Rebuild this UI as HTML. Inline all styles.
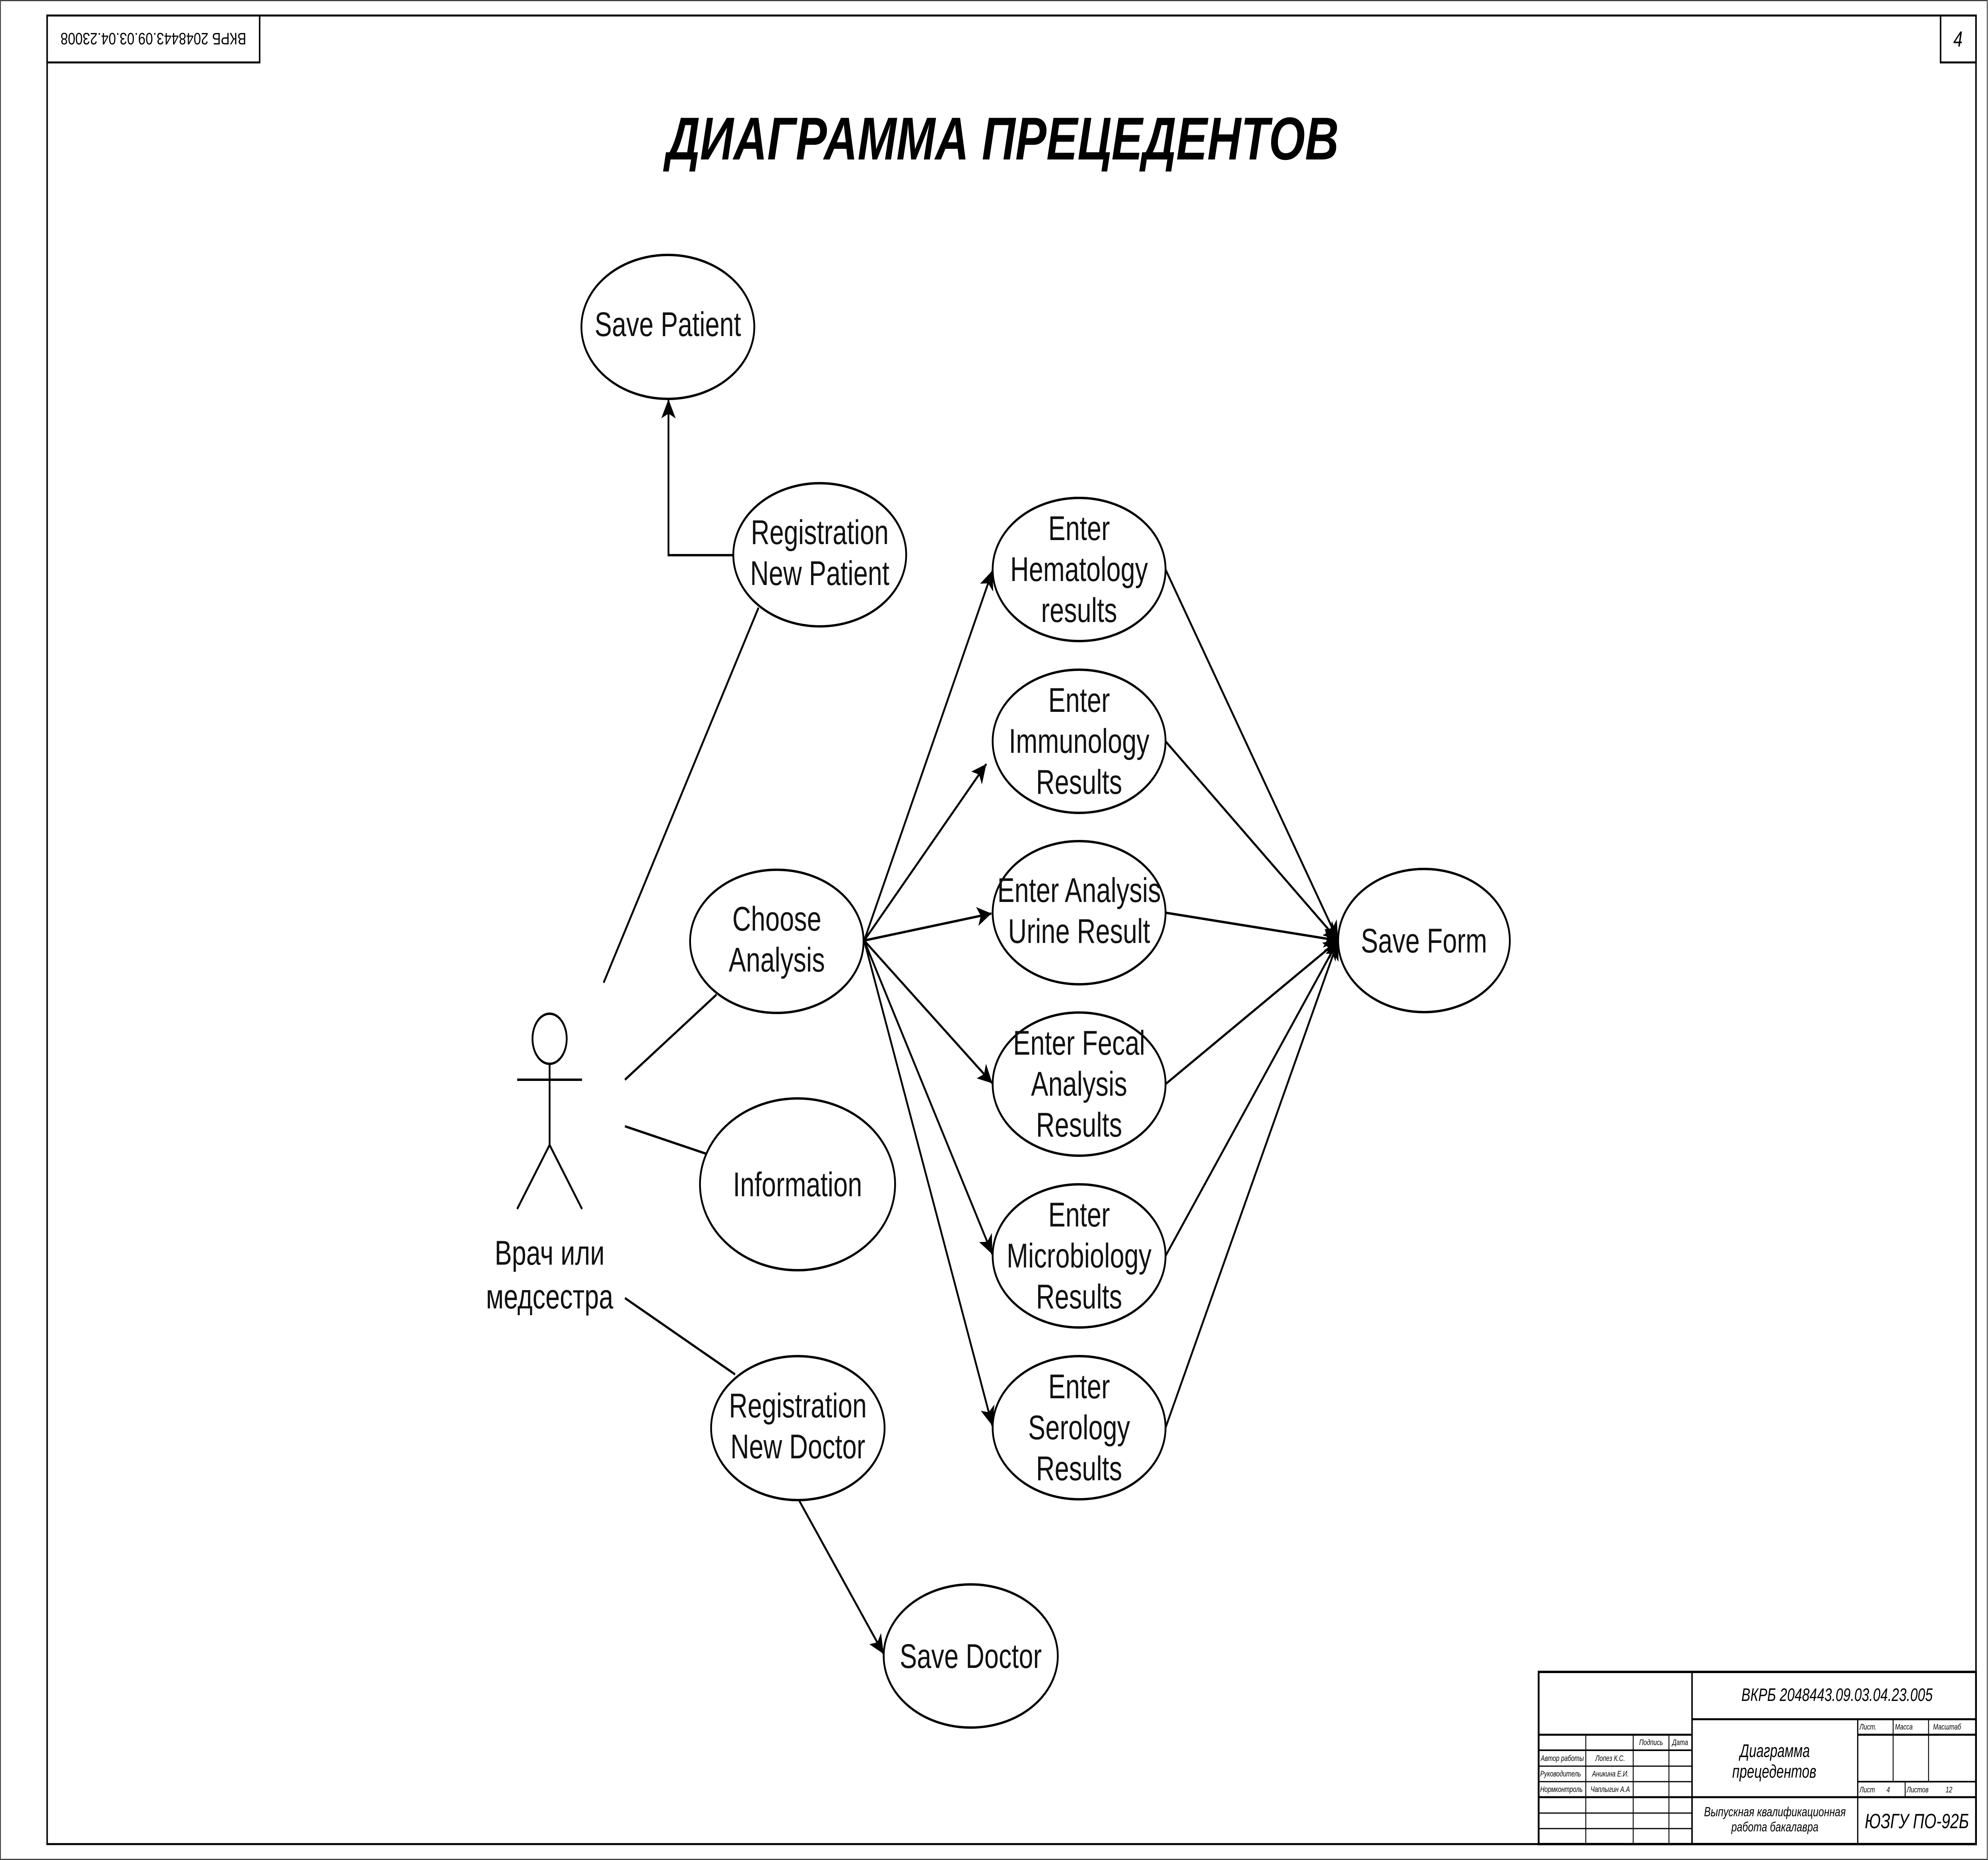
<!DOCTYPE html>
<html><head><meta charset="utf-8"><style>html,body{margin:0;padding:0;background:#fff;width:100%;height:100%;overflow:hidden}svg{display:block;width:100vw;height:100vh}</style></head>
<body>
<svg viewBox="0 0 6623 4677" preserveAspectRatio="none" xmlns="http://www.w3.org/2000/svg" font-family="'Liberation Sans', sans-serif">
<defs>
<marker id="ar" viewBox="0 0 10 10" refX="10" refY="5" markerWidth="8" markerHeight="8" markerUnits="strokeWidth" orient="auto">
<path d="M0,0 L10,5 L0,10 L2.5,5 z" fill="#000"/>
</marker>
</defs>
<rect x="1.5" y="1.5" width="6619" height="4674" fill="none" stroke="#444" stroke-width="3"/>
<rect x="157" y="39" width="6426" height="4598" fill="none" stroke="#000" stroke-width="5"/>
<rect x="157" y="39" width="708" height="118" fill="none" stroke="#000" stroke-width="5"/>
<text x="0" y="0" font-size="42" text-anchor="middle" transform="translate(511,98) rotate(180) translate(0,15)" textLength="619" lengthAdjust="spacingAndGlyphs">ВКРБ 2048443.09.03.04.23008</text>
<rect x="6465" y="39" width="118" height="118" fill="none" stroke="#000" stroke-width="5"/>
<text x="6523" y="117" font-size="55" font-style="italic" text-anchor="middle">4</text>

<text x="3340" y="401" font-size="152" font-weight="bold" font-style="italic" text-anchor="middle" textLength="2240" lengthAdjust="spacingAndGlyphs">ДИАГРАММА ПРЕЦЕДЕНТОВ</text>

<g stroke="#000" stroke-width="6" fill="none">
<ellipse cx="1831" cy="2612" rx="57" ry="63"/>
<line x1="1831" y1="2675" x2="1831" y2="2879"/>
<line x1="1723" y1="2715" x2="1939" y2="2715"/>
<line x1="1831" y1="2879" x2="1723" y2="3040"/>
<line x1="1831" y1="2879" x2="1939" y2="3040"/>
<line x1="2011" y1="2471" x2="2527" y2="1528"/>
<line x1="2082" y1="2715" x2="2387" y2="2501"/>
<line x1="2082" y1="2832" x2="2352" y2="2901"/>
<line x1="2082" y1="3264" x2="2449" y2="3456"/>
<polyline points="2443,1396 2227,1396 2227,1004" marker-end="url(#ar)"/>
<line x1="2663" y1="3774" x2="2944" y2="4159" marker-end="url(#ar)"/>
<line x1="2879" y1="2365" x2="3307" y2="1434" marker-end="url(#ar)"/>
<line x1="2879" y1="2365" x2="3286" y2="1921" marker-end="url(#ar)"/>
<line x1="2879" y1="2365" x2="3303" y2="2297" marker-end="url(#ar)"/>
<line x1="2879" y1="2365" x2="3306" y2="2724" marker-end="url(#ar)"/>
<line x1="2879" y1="2365" x2="3306" y2="3154" marker-end="url(#ar)"/>
<line x1="2879" y1="2365" x2="3306" y2="3585" marker-end="url(#ar)"/>
<line x1="3883" y1="1432" x2="4458" y2="2365" marker-end="url(#ar)"/>
<line x1="3883" y1="1864" x2="4458" y2="2365" marker-end="url(#ar)"/>
<line x1="3883" y1="2295" x2="4458" y2="2365" marker-end="url(#ar)"/>
<line x1="3883" y1="2726" x2="4458" y2="2365" marker-end="url(#ar)"/>
<line x1="3883" y1="3158" x2="4458" y2="2365" marker-end="url(#ar)"/>
<line x1="3883" y1="3590" x2="4458" y2="2365" marker-end="url(#ar)"/>
<ellipse cx="2225" cy="822" rx="288" ry="181" fill="#fff"/>
<ellipse cx="2731" cy="1395" rx="288" ry="180" fill="#fff"/>
<ellipse cx="2588" cy="2367" rx="289" ry="180" fill="#fff"/>
<ellipse cx="2657" cy="2978" rx="325" ry="216" fill="#fff"/>
<ellipse cx="2658" cy="3591" rx="289" ry="181" fill="#fff"/>
<ellipse cx="3234" cy="4164" rx="290" ry="180" fill="#fff"/>
<ellipse cx="3595" cy="1432" rx="288" ry="180" fill="#fff"/>
<ellipse cx="3595" cy="1864" rx="288" ry="180" fill="#fff"/>
<ellipse cx="3595" cy="2295" rx="288" ry="180" fill="#fff"/>
<ellipse cx="3595" cy="2726" rx="288" ry="180" fill="#fff"/>
<ellipse cx="3595" cy="3158" rx="288" ry="180" fill="#fff"/>
<ellipse cx="3595" cy="3590" rx="288" ry="180" fill="#fff"/>
<ellipse cx="4744" cy="2365" rx="286" ry="180" fill="#fff"/>
</g>

<g font-size="86" text-anchor="middle" fill="#111">
<text x="1831" y="3180">Врач или</text>
<text x="1831" y="3290">медсестра</text>
<text x="2225" y="845">Save Patient</text>
<text x="2731" y="1368">Registration</text>
<text x="2731" y="1471">New Patient</text>
<text x="2588" y="2340">Choose</text>
<text x="2588" y="2443">Analysis</text>
<text x="2657" y="3008">Information</text>
<text x="2658" y="3564">Registration</text>
<text x="2658" y="3667">New Doctor</text>
<text x="3234" y="4194">Save Doctor</text>
<text x="3595" y="1358">Enter</text>
<text x="3595" y="1461">Hematology</text>
<text x="3595" y="1564">results</text>
<text x="3595" y="1790">Enter</text>
<text x="3595" y="1893">Immunology</text>
<text x="3595" y="1996">Results</text>
<text x="3595" y="2268">Enter Analysis</text>
<text x="3595" y="2371">Urine Result</text>
<text x="3595" y="2652">Enter Fecal</text>
<text x="3595" y="2755">Analysis</text>
<text x="3595" y="2858">Results</text>
<text x="3595" y="3084">Enter</text>
<text x="3595" y="3187">Microbiology</text>
<text x="3595" y="3290">Results</text>
<text x="3595" y="3516">Enter</text>
<text x="3595" y="3619">Serology</text>
<text x="3595" y="3722">Results</text>
<text x="4744" y="2395">Save Form</text>
</g>

<g stroke="#000" fill="none">
<rect x="5126" y="4204" width="1457" height="433" stroke-width="6"/>
<line x1="5637" y1="4204" x2="5637" y2="4637" stroke-width="5"/>
<line x1="5637" y1="4323" x2="6583" y2="4323" stroke-width="5"/>
<line x1="5126" y1="4362" x2="5637" y2="4362" stroke-width="5"/>
<line x1="6189" y1="4362" x2="6583" y2="4362" stroke-width="5"/>
<line x1="5126" y1="4401" x2="5637" y2="4401" stroke-width="4"/>
<line x1="5126" y1="4441" x2="5637" y2="4441" stroke-width="3"/>
<line x1="5126" y1="4480" x2="5637" y2="4480" stroke-width="3"/>
<line x1="6189" y1="4480" x2="6583" y2="4480" stroke-width="4"/>
<line x1="5126" y1="4519" x2="6583" y2="4519" stroke-width="5"/>
<line x1="5126" y1="4559" x2="5637" y2="4559" stroke-width="3"/>
<line x1="5126" y1="4598" x2="5637" y2="4598" stroke-width="3"/>
<line x1="5283" y1="4362" x2="5283" y2="4637" stroke-width="3"/>
<line x1="5441" y1="4362" x2="5441" y2="4637" stroke-width="3"/>
<line x1="5560" y1="4362" x2="5560" y2="4637" stroke-width="3"/>
<line x1="6189" y1="4323" x2="6189" y2="4637" stroke-width="4"/>
<line x1="6307" y1="4323" x2="6307" y2="4480" stroke-width="3"/>
<line x1="6425" y1="4323" x2="6425" y2="4480" stroke-width="3"/>
<line x1="6347" y1="4480" x2="6347" y2="4519" stroke-width="3"/>
</g>
<g font-style="italic" fill="#000">
<text x="6120" y="4277" font-size="45" text-anchor="middle" textLength="637" lengthAdjust="spacingAndGlyphs">ВКРБ 2048443.09.03.04.23.005</text>
<text x="5913" y="4418" font-size="46" text-anchor="middle" textLength="233" lengthAdjust="spacingAndGlyphs">Диаграмма</text>
<text x="5911" y="4470" font-size="46" text-anchor="middle" textLength="280" lengthAdjust="spacingAndGlyphs">прецедентов</text>
<text x="5913" y="4567" font-size="33" text-anchor="middle" textLength="472" lengthAdjust="spacingAndGlyphs">Выпускная квалификационная</text>
<text x="5913" y="4605" font-size="33" text-anchor="middle" textLength="290" lengthAdjust="spacingAndGlyphs">работа бакалавра</text>
<text x="6386" y="4597" font-size="52" text-anchor="middle" textLength="347" lengthAdjust="spacingAndGlyphs">ЮЗГУ  ПО-92Б</text>
<g font-size="20">
<text x="6195" y="4349">Лист.</text>
<text x="6313" y="4349">Масса</text>
<text x="6440" y="4349">Масштаб</text>
<text x="5461" y="4388">Подпись</text>
<text x="5571" y="4388">Дата</text>
<text x="5133" y="4428">Автор работы</text>
<text x="5315" y="4428">Лопез К.С.</text>
<text x="5131" y="4467">Руководитель</text>
<text x="5304" y="4467">Аникина Е.И.</text>
<text x="5131" y="4506">Нормконтроль</text>
<text x="5299" y="4506">Чаплыгин А.А</text>
<text x="6195" y="4507">Лист</text>
<text x="6285" y="4507">4</text>
<text x="6352" y="4507">Листов</text>
<text x="6482" y="4507">12</text>
</g>
</g>
</svg>
</body></html>
